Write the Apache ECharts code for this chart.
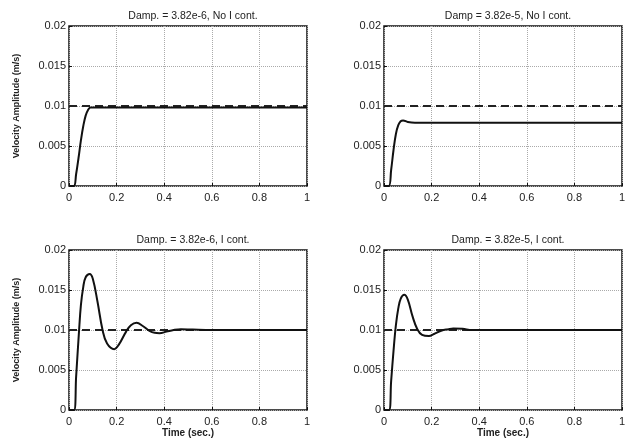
<!DOCTYPE html>
<html>
<head>
<meta charset="utf-8">
<script src="https://cdn.jsdelivr.net/npm/echarts@6/dist/echarts.min.js"></script>
<style>
    html, body {margin: 0; padding: 0; background: #fff;}
    #main {width: 631px; height: 444px;}
</style>
</head>
<body>
<div id="main"></div>
<script>
var titles = [
    'Damp. = 3.82e-6, No I cont.',
    'Damp = 3.82e-5, No I cont.',
    'Damp. = 3.82e-6, I cont.',
    'Damp. = 3.82e-5, I cont.'
];
var xTicks = [0, 0.2, 0.4, 0.6, 0.8, 1];
var yTicks = [0, 0.005, 0.01, 0.015, 0.02];
var refLevel = 0.01;   // dashed reference velocity

// top left
var timeA = [0, 0.02, 0.03, 0.04, 0.05, 0.06, 0.07, 0.08, 0.09, 0.1, 0.15, 0.3, 0.6, 1];
var velA  = [0, 0, 0.0015, 0.0035, 0.0057, 0.0075, 0.0088, 0.0095, 0.0098, 0.0098, 0.0098, 0.0098, 0.0098, 0.0098];
// top right
var timeB = [0, 0.02, 0.03, 0.04, 0.05, 0.06, 0.07, 0.08, 0.1, 0.13, 0.16, 0.3, 0.6, 1];
var velB  = [0, 0, 0.002, 0.0045, 0.0065, 0.0076, 0.0081, 0.0082, 0.008, 0.0079, 0.0079, 0.0079, 0.0079, 0.0079];
// bottom left
var timeC = [0, 0.021, 0.03, 0.042, 0.05, 0.06, 0.07, 0.087, 0.1, 0.12, 0.141, 0.16, 0.19, 0.21, 0.24, 0.26, 0.284, 0.31, 0.338, 0.36, 0.38, 0.41, 0.44, 0.47, 0.52, 0.6, 1];
var velC  = [0, 0, 0.0042, 0.0098, 0.0131, 0.0154, 0.0166, 0.017, 0.0164, 0.0135, 0.01, 0.0083, 0.0076, 0.0082, 0.0098, 0.0106, 0.0109, 0.0105, 0.0099, 0.00965, 0.0096, 0.0098, 0.01, 0.0101, 0.01005, 0.01, 0.01];
// bottom right
var timeD = [0, 0.021, 0.03, 0.04, 0.05, 0.06, 0.07, 0.085, 0.1, 0.12, 0.14, 0.16, 0.189, 0.21, 0.24, 0.27, 0.291, 0.33, 0.37, 0.42, 1];
var velD  = [0, 0, 0.0036, 0.0074, 0.0106, 0.0127, 0.0139, 0.0144, 0.0138, 0.0117, 0.0101, 0.0094, 0.00925, 0.0095, 0.0099, 0.0101, 0.0102, 0.01015, 0.01, 0.01, 0.01];

var times = [timeA, timeB, timeC, timeD];
var vels = [velA, velB, velC, velD];

var textFont = '"Liberation Sans", Arial, sans-serif';
var grids = [
    {left: 69, top: 26, width: 238, height: 160},
    {left: 384, top: 26, width: 238, height: 160},
    {left: 69, top: 250, width: 238, height: 160},
    {left: 384, top: 250, width: 238, height: 160}
];

var gridOpt = [], xAxes = [], yAxes = [], series = [], titleOpt = [];
for (var i = 0; i < 4; i++) {
    var g = grids[i];
    gridOpt.push({
        left: g.left, top: g.top, width: g.width, height: g.height,
        show: true, borderColor: '#111', borderWidth: 1.5, backgroundColor: '#fff'
    });
    titleOpt.push({
        text: titles[i],
        left: g.left + g.width / 2,
        top: g.top - 20,
        textAlign: 'center',
        textStyle: {fontFamily: textFont, fontSize: 10.5, fontWeight: 'normal', color: '#222'}
    });
    xAxes.push({
        gridIndex: i, type: 'value',
        min: xTicks[0], max: xTicks[xTicks.length - 1], interval: 0.2,
        name: i >= 2 ? 'Time (sec.)' : '',
        nameLocation: 'middle', nameGap: 17,
        nameTextStyle: {fontFamily: textFont, fontSize: 10, fontWeight: 'bold', color: '#222'},
        axisLine: {show: false},
        axisTick: {show: true, inside: true, length: 3, lineStyle: {color: '#111'}},
        axisLabel: {margin: 6, fontFamily: textFont, fontSize: 11, color: '#222'},
        splitLine: {show: true, lineStyle: {color: '#aaa', type: 'dotted', width: 1}}
    });
    yAxes.push({
        gridIndex: i, type: 'value',
        min: yTicks[0], max: yTicks[yTicks.length - 1], interval: 0.005,
        name: i % 2 === 0 ? 'Velocity Amplitude (m/s)' : '',
        nameLocation: 'middle', nameGap: 48,
        nameTextStyle: {fontFamily: textFont, fontSize: 9, fontWeight: 'bold', color: '#222'},
        axisLine: {show: false},
        axisTick: {show: true, inside: true, length: 3, lineStyle: {color: '#111'}},
        axisLabel: {margin: 3, fontFamily: textFont, fontSize: 11, color: '#222'},
        splitLine: {show: true, lineStyle: {color: '#aaa', type: 'dotted', width: 1}}
    });
    // dashed reference
    series.push({
        type: 'line', xAxisIndex: i, yAxisIndex: i,
        data: [[xTicks[0], refLevel], [xTicks[xTicks.length - 1], refLevel]],
        symbol: 'none', silent: true,
        lineStyle: {color: '#222', width: 1.8, type: [8, 5]}
    });
    series.push({
        type: 'line', xAxisIndex: i, yAxisIndex: i,
        data: times[i].map(function (t, k) { return [t, vels[i][k]]; }),
        symbol: 'none', smooth: 0.4, silent: true,
        lineStyle: {color: '#111', width: 2}
    });
}

var myChart = echarts.init(document.getElementById('main'));
myChart.setOption({
    animation: false,
    backgroundColor: '#fff',
    title: titleOpt,
    grid: gridOpt,
    xAxis: xAxes,
    yAxis: yAxes,
    series: series
});
</script>
</body>
</html>
